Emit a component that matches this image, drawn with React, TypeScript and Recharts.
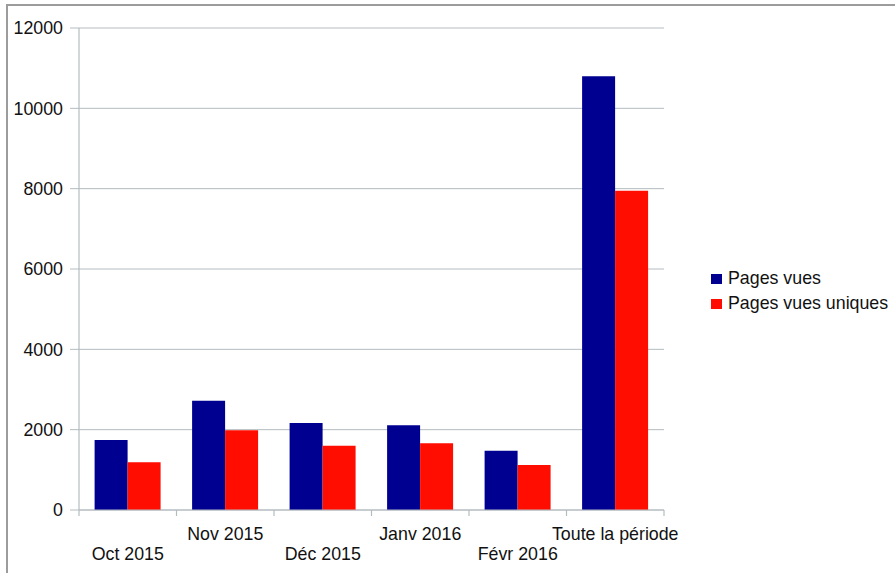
import React from "react";
import { BarChart, Bar, XAxis, YAxis, CartesianGrid } from "recharts";

const periods = ["Oct 2015", "Nov 2015", "Déc 2015", "Janv 2016", "Févr 2016", "Toute la période"];
const pagesVues = [1740, 2720, 2165, 2110, 1475, 10800];
const pagesVuesUniques = [1190, 1985, 1600, 1660, 1120, 7950];
const yTicks = [0, 2000, 4000, 6000, 8000, 10000, 12000];

const seriesNames = ["Pages vues", "Pages vues uniques"];
const seriesColors = ["#000090", "#ff0d00"];

const data = periods.map((period, i) => ({
    period,
    vues: pagesVues[i],
    uniques: pagesVuesUniques[i],
}));

const FONT = "'Liberation Sans', Arial, sans-serif";
const FONT_SIZE = 17.8;
const AXIS_GREY = "#b4bcc0";

// category labels alternate between two rows; tick marks sit on the band edges
function PeriodTick(props: any) {
    const { x, y, payload, index } = props;
    const half = payload.offset ?? 0;
    const last = index === periods.length - 1;
    const dy = index % 2 === 0 ? 49.5 : 29.5;
    return (
        <g>
            <line x1={x - half} y1={y} x2={x - half} y2={y + 6} stroke={AXIS_GREY} strokeWidth={1.2} />
            {last && <line x1={x + half} y1={y} x2={x + half} y2={y + 6} stroke={AXIS_GREY} strokeWidth={1.2} />}
            <text x={x} y={y + dy} textAnchor="middle" fontSize={FONT_SIZE} fontFamily={FONT} fill="#111">
                {payload.value}
            </text>
        </g>
    );
}

function SeriesLegend() {
    return (
        <div
            style={{
                position: "absolute",
                left: 711,
                top: 266,
                fontFamily: FONT,
                fontSize: FONT_SIZE,
                color: "#111",
            }}
        >
            {seriesNames.map((name, i) => (
                <div key={name} style={{ display: "flex", alignItems: "center", height: 25 }}>
                    <span style={{ width: 11, height: 10, background: seriesColors[i], marginRight: 6 }} />
                    <span>{name}</span>
                </div>
            ))}
        </div>
    );
}

export default function App() {
    return (
        <div style={{ position: "absolute", left: 0, top: 0, width: 895, height: 573, background: "#fff" }}>
            <div
                style={{
                    position: "absolute",
                    left: 6,
                    top: 4,
                    width: 889,
                    height: 569,
                    borderTop: "2px solid #9c9c9c",
                    borderLeft: "2px solid #9c9c9c",
                }}
            />
            <BarChart
                width={895}
                height={573}
                data={data}
                margin={{ top: 28, right: 231, left: 0, bottom: 0 }}
                barCategoryGap="16%"
                barGap={0}
            >
                <CartesianGrid stroke={AXIS_GREY} vertical={false} />
                <XAxis
                    dataKey="period"
                    interval={0}
                    tickSize={0}
                    tickMargin={0}
                    tickLine={false}
                    axisLine={{ stroke: AXIS_GREY, strokeWidth: 1.2 }}
                    tick={<PeriodTick />}
                    height={63}
                />
                <YAxis
                    width={79}
                    domain={[0, 12000]}
                    ticks={yTicks}
                    interval={0}
                    tickSize={9}
                    tickMargin={7}
                    axisLine={{ stroke: AXIS_GREY, strokeWidth: 1.2 }}
                    tickLine={{ stroke: AXIS_GREY }}
                    tick={{ fontSize: FONT_SIZE, fill: "#111", fontFamily: FONT }}
                />
                <YAxis
                    yAxisId="frame"
                    orientation="right"
                    width={0}
                    tick={false}
                    tickLine={false}
                    axisLine={{ stroke: AXIS_GREY, strokeWidth: 1.2 }}
                />
                <Bar dataKey="vues" name={seriesNames[0]} fill={seriesColors[0]} isAnimationActive={false} />
                <Bar dataKey="uniques" name={seriesNames[1]} fill={seriesColors[1]} isAnimationActive={false} />
            </BarChart>
            <SeriesLegend />
        </div>
    );
}
